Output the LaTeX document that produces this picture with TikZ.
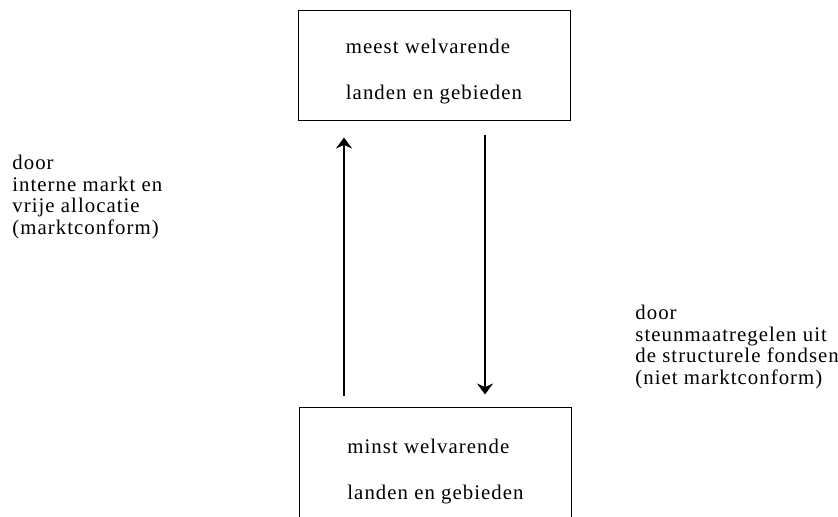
\documentclass[tikz,border=0pt]{standalone}
\usepackage{fontspec}
\setmainfont{Liberation Serif}[LetterSpace=5]
\usetikzlibrary{arrows.meta}
\newcommand{\topgap}{\rule{0pt}{12.5pt}}
\begin{document}
\begin{tikzpicture}[x=0.5pt,y=-0.5pt,
  box/.style={draw, line width=0.5pt, minimum width=136pt, align=left,
    font=\fontsize{10.4}{23}\selectfont},
  note/.style={anchor=north west, inner sep=0pt, align=left,
    font=\fontsize{10.4}{10.75}\selectfont},
  flow/.style={line width=1pt, -{Stealth[length=5.5pt,width=8pt]}}]
  \useasboundingbox (0,0) rectangle (838,517);
  % the two groups of regions
  \node[box, minimum height=55pt] (top) at (434,66) {\topgap meest welvarende\\landen en gebieden};
  \node[box, minimum height=65pt] (bot) at (435.5,472) {minst welvarende\\landen en gebieden};
  % transfers both ways
  \draw[flow, shorten <=5.5pt, shorten >=8pt] ([xshift=-45pt]top.south |- bot.north) -- ([xshift=-45pt]top.south);
  \draw[flow, shorten <=7pt, shorten >=6pt] ([xshift=25.5pt]top.south) -- ([xshift=25.5pt]top.south |- bot.north);
  \node[note] (lhs) at (12,155) {door\\interne markt en\\vrije allocatie\\(marktconform)};
  \node[note] (rhs) at (635,305) {door\\steunmaatregelen uit\\de structurele fondsen\\(niet marktconform)};
\end{tikzpicture}
\end{document}
